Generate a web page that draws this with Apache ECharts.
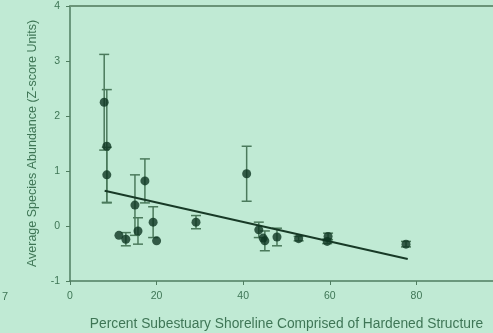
<!DOCTYPE html>
<html><head><meta charset="utf-8">
<script src="https://cdn.jsdelivr.net/npm/echarts@6/dist/echarts.min.js"></script>
<style>html,body{margin:0;padding:0;background:#c0ead4;}#c{width:493px;height:333px;}</style>
</head><body><div id="c"></div>
<script>
const xVals = [7.9, 8.5, 8.5, 11.3, 12.9, 15.0, 15.7, 17.3, 19.2, 20.0, 29.1, 40.8, 43.6, 44.6, 45.0, 47.8, 52.8, 59.4, 59.6, 77.6];
const yVals = [2.25, 1.45, 0.93, -0.17, -0.24, 0.38, -0.09, 0.82, 0.07, -0.27, 0.07, 0.95, -0.07, -0.22, -0.27, -0.2, -0.23, -0.28, -0.19, -0.33];
const yErr  = [0.87, 1.03, 0.5, 0, 0.12, 0.55, 0.24, 0.4, 0.28, 0, 0.12, 0.5, 0.14, 0, 0.18, 0.16, 0.04, 0.04, 0.06, 0.05];
const fitX = [8, 78];
const fitY = [0.64, -0.6];
const xTicks = [0, 20, 40, 60, 80];
const yTicks = [-1, 0, 1, 2, 3, 4];

const txt = '#3f7656';
const axisCol = '#4f7d60';
const pts = xVals.map((x, i) => [x, yVals[i]]);
const errData = xVals.map((x, i) => [x, yVals[i] - yErr[i], yVals[i] + yErr[i]]).filter((d, i) => yErr[i] > 0);

const chart = echarts.init(document.getElementById('c'), null, {renderer: 'canvas'});
chart.setOption({
  backgroundColor: '#c0ead4',
  animation: false,
  grid: {left: 70, top: 6, width: 433, height: 275, outerBoundsMode: 'none', containLabel: false},
  xAxis: [{
    type: 'value', min: 0, max: 100, interval: 20,
    axisLine: {show: true, onZero: false, lineStyle: {color: axisCol, width: 1.5}},
    axisTick: {show: true, inside: false, length: 4, lineStyle: {color: axisCol}},
    axisLabel: {color: txt, fontSize: 10.5, fontFamily: 'Liberation Sans, Arial', margin: 10,
      formatter: v => xTicks.includes(v) ? String(v) : ''},
    splitLine: {show: false},
    name: 'Percent Subestuary Shoreline Comprised of Hardened Structure',
    nameLocation: 'middle', nameGap: 36,
    nameTextStyle: {color: txt, fontSize: 13.8, fontFamily: 'Liberation Sans, Arial'}
  }, {
    type: 'value', min: 0, max: 100, position: 'top',
    axisLine: {show: true, onZero: false, lineStyle: {color: '#6b9478', width: 2}},
    axisTick: {show: false}, axisLabel: {show: false}, splitLine: {show: false}
  }],
  yAxis: {
    type: 'value', min: -1, max: 4, interval: 1,
    axisLine: {show: true, onZero: false, lineStyle: {color: axisCol, width: 1.5}},
    axisTick: {show: true, inside: false, length: 4, lineStyle: {color: axisCol}},
    axisLabel: {color: txt, fontSize: 10.5, fontFamily: 'Liberation Sans, Arial', margin: 10,
      formatter: v => yTicks.includes(v) ? String(v) : ''},
    splitLine: {show: false},
    name: 'Average Species Abundance (Z-score Units)',
    nameLocation: 'middle', nameGap: 31, nameRotate: 90,
    nameTextStyle: {color: txt, fontSize: 12.5, fontFamily: 'Liberation Sans, Arial'}
  },
  graphic: [{type: 'text', left: 2, top: 291, style: {text: '7', fill: txt, fontSize: 11, fontFamily: 'Liberation Sans, Arial'}}],
  series: [{
    type: 'custom',
    data: errData,
    renderItem: (params, api) => {
      const x = api.value(0);
      const lo = api.coord([x, api.value(1)]);
      const hi = api.coord([x, api.value(2)]);
      const w = 5;
      const st = {stroke: '#4b7a5c', lineWidth: 1.5};
      return {type: 'group', children: [
        {type: 'line', shape: {x1: lo[0], y1: lo[1], x2: hi[0], y2: hi[1]}, style: st},
        {type: 'line', shape: {x1: lo[0]-w, y1: lo[1], x2: lo[0]+w, y2: lo[1]}, style: st},
        {type: 'line', shape: {x1: hi[0]-w, y1: hi[1], x2: hi[0]+w, y2: hi[1]}, style: st}
      ]};
    },
    z: 2
  }, {
    type: 'line',
    data: fitX.map((x, i) => [x, fitY[i]]),
    showSymbol: false, symbol: 'none',
    lineStyle: {color: '#183a27', width: 2},
    z: 3
  }, {
    type: 'scatter',
    data: pts,
    symbol: 'circle', symbolSize: 9,
    itemStyle: {color: '#0e3622'},
    z: 4
  }]
});
</script></body></html>
